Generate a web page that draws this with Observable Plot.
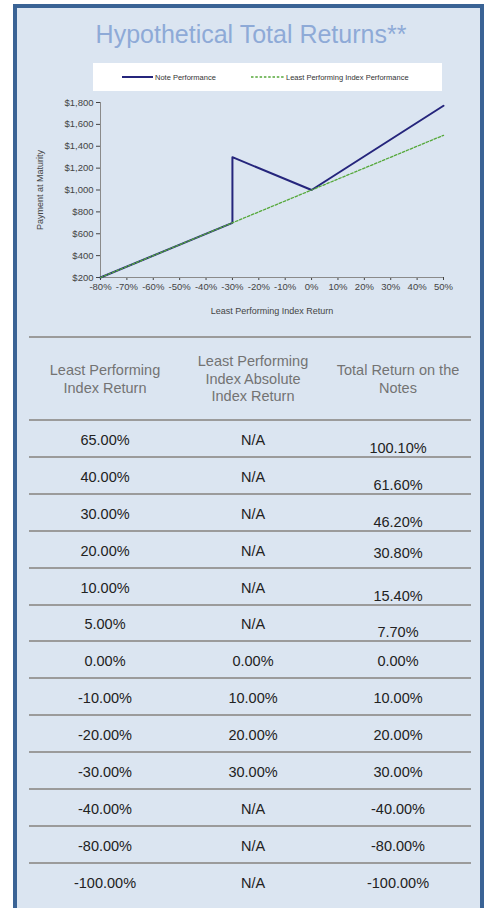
<!DOCTYPE html>
<html>
<head>
<meta charset="utf-8">
<script src="https://cdn.jsdelivr.net/npm/d3@7"></script>
<script src="https://cdn.jsdelivr.net/npm/@observablehq/plot@0.6"></script>
<style>
  html, body { margin: 0; padding: 0; background: #ffffff; width: 488px; height: 908px; overflow: hidden; }
  body { position: relative; font-family: "Liberation Sans", Arial, sans-serif; }
  #panel { position: absolute; left: 13px; top: 4px; width: 463px; height: 1000px; border: 4px solid #3a6395; background: #dbe5f1; }
  #title { position: absolute; left: 0; top: 22px; width: 502px; text-align: center; font-size: 25px; line-height: 25px; color: #8eaad7; }
  #legend { position: absolute; left: 93px; top: 63px; width: 349px; height: 28px; background: #ffffff; font-size: 7.5px; color: #333; }
  #legend .item { position: absolute; top: 0; height: 28px; display: flex; align-items: center; white-space: nowrap; }
  #legend svg { margin-right: 2px; }
  #chart { position: absolute; left: 20px; top: 95px; }
  .rule { position: absolute; left: 29px; width: 442px; height: 2px; background: #9b9b9b; }
  .cell { position: absolute; width: 160px; text-align: center; display: flex; align-items: center; justify-content: center; white-space: nowrap; }
  .head { color: #737373; font-size: 14.5px; line-height: 17.5px; }
  .body { color: #222; font-size: 14.5px; line-height: 15px; }
</style>
</head>
<body>
<div id="panel"></div>
<div id="title"></div>
<div id="legend"></div>
<div id="chart"></div>
<div id="table"></div>
<script>
// ---- Chart data ----
const titleText = "Hypothetical Total Returns**";
const noteX = [-80, -30, -30, 0, 50];
const noteY = [200, 700, 1300, 1000, 1770];
const indexX = [-80, 50];
const indexY = [200, 1500];
const xTicks = [-80, -70, -60, -50, -40, -30, -20, -10, 0, 10, 20, 30, 40, 50];
const yTicks = [200, 400, 600, 800, 1000, 1200, 1400, 1600, 1800];
const seriesNames = ["Note Performance", "Least Performing Index Performance"];
const xLabel = "Least Performing Index Return";
const yLabel = "Payment at Maturity";

// ---- Table data ----
const headers = [
  ["Least Performing", "Index Return"],
  ["Least Performing", "Index Absolute", "Index Return"],
  ["Total Return on the", "Notes"]
];
const indexReturn = ["65.00%", "40.00%", "30.00%", "20.00%", "10.00%", "5.00%", "0.00%", "-10.00%", "-20.00%", "-30.00%", "-40.00%", "-80.00%", "-100.00%"];
const absoluteReturn = ["N/A", "N/A", "N/A", "N/A", "N/A", "N/A", "0.00%", "10.00%", "20.00%", "30.00%", "N/A", "N/A", "N/A"];
const noteReturn = ["100.10%", "61.60%", "46.20%", "30.80%", "15.40%", "7.70%", "0.00%", "10.00%", "20.00%", "30.00%", "-40.00%", "-80.00%", "-100.00%"];

const NOTE_COLOR = "#25257c";
const INDEX_COLOR = "#55a83a";

document.getElementById("title").textContent = titleText;

// Legend
const legend = document.getElementById("legend");
legend.innerHTML =
  `<div class="item" style="left:29px"><svg width="31" height="4"><line x1="0" x2="31" y1="2" y2="2" stroke="${NOTE_COLOR}" stroke-width="2"/></svg>${seriesNames[0]}</div>` +
  `<div class="item" style="left:158px"><svg width="33" height="4"><line x1="0" x2="33" y1="2" y2="2" stroke="${INDEX_COLOR}" stroke-width="1.5" stroke-dasharray="2.5,1.8"/></svg>${seriesNames[1]}</div>`;

// Chart
const noteData = noteX.map((x, i) => ({x, y: noteY[i]}));
const indexData = indexX.map((x, i) => ({x, y: indexY[i]}));

const chart = Plot.plot({
  width: 460,
  height: 230,
  marginLeft: 80,
  marginRight: 37,
  marginTop: 7,
  marginBottom: 48,
  style: {background: "transparent", fontFamily: "'Liberation Sans', Arial, sans-serif", fontSize: "9.5px", color: "#444"},
  x: {domain: [-80, 50], ticks: xTicks, tickFormat: d => d + "%", tickSize: 3, tickPadding: 3, label: xLabel, labelAnchor: "center", labelOffset: 36, labelArrow: false},
  y: {domain: [200, 1800], ticks: yTicks, tickFormat: d => "$" + d3.format(",")(d), tickSize: 4, tickPadding: 3, label: yLabel, labelAnchor: "center", labelOffset: 64, labelArrow: false},
  marks: [
    Plot.ruleX([-80], {stroke: "#8a8a8a"}),
    Plot.ruleY([200], {stroke: "#8a8a8a"}),
    Plot.line(noteData, {x: "x", y: "y", stroke: NOTE_COLOR, strokeWidth: 2}),
    Plot.line(indexData, {x: "x", y: "y", stroke: INDEX_COLOR, strokeWidth: 1.3, strokeDasharray: "2.5,1.8"})
  ]
});
document.getElementById("chart").appendChild(chart);
// axis label fonts (and strip any arrow glyphs)
chart.querySelectorAll("[aria-label='x-axis label'] text, [aria-label='y-axis label'] text").forEach(t => {
  t.style.fontSize = "9px";
  t.textContent = t.textContent.replace(/[↑↓←→]/g, "").trim();
});

// Table
const table = document.getElementById("table");
const colCenters = [105, 253, 398];
const ruleYs = [337, 420];
const rowTop = 420, rowH = 36.9;
for (let i = 0; i < indexReturn.length - 1; i++) ruleYs.push(rowTop + (i + 1) * rowH);
let html = "";
ruleYs.forEach(y => { html += `<div class="rule" style="top:${(y - 1).toFixed(1)}px"></div>`; });
headers.forEach((lines, c) => {
  html += `<div class="cell head" style="left:${colCenters[c] - 80}px;top:339px;height:81px">${lines.join("<br>")}</div>`;
});
const cols = [indexReturn, absoluteReturn, noteReturn];
indexReturn.forEach((_, r) => {
  cols.forEach((col, c) => {
    // the third column of the upside rows sits lower in the original layout
    let shift = 0;
    if (c === 2 && absoluteReturn[r] === "N/A" && !noteReturn[r].startsWith("-")) shift = (r === 3 ? 2 : 8);
    const top = rowTop + r * rowH + 2 + shift;
    html += `<div class="cell body" style="left:${colCenters[c] - 80}px;top:${top.toFixed(1)}px;height:${rowH}px">${col[r]}</div>`;
  });
});
table.innerHTML = html;
</script>
</body>
</html>
